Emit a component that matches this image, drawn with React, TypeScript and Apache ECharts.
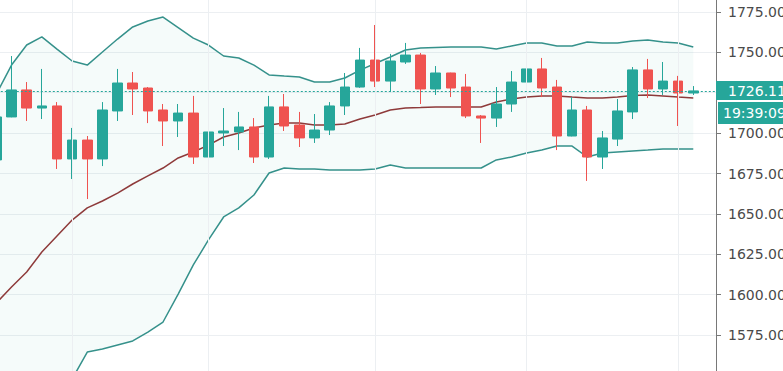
import React, { useEffect, useRef } from "react";
import * as echarts from "echarts";

const categories = [
  "01", "02", "03", "04", "05", "06", "07", "08", "09", "10", "11", "12",
  "13", "14", "15", "16", "17", "18", "19", "20", "21", "22", "23", "24",
  "25", "26", "27", "28", "29", "30", "31", "32", "33", "34", "35", "36",
  "37", "38", "39", "40", "41", "42", "43", "44", "45", "46", "47", "48",
];

const opens = [
  1683.4, 1710.0, 1726.7, 1715.5, 1716.8, 1684.0, 1695.7, 1684.0, 1713.7, 1731.0,
  1727.9, 1714.3, 1707.5, 1712.4, 1685.2, 1700.1, 1700.7, 1703.8, 1685.2, 1716.2,
  1705.0, 1697.0, 1701.9, 1716.8, 1728.5, 1745.2, 1732.2, 1744.0, 1748.3, 1727.3,
  1737.2, 1728.5, 1710.6, 1709.3, 1718.0, 1731.6, 1739.7, 1728.5, 1698.2, 1714.3,
  1685.2, 1696.3, 1713.1, 1739.1, 1727.3, 1732.2, 1724.8,
];
const closes = [
  1710.0, 1726.7, 1715.5, 1716.8, 1684.0, 1695.7, 1684.0, 1714.3, 1731.0, 1727.3,
  1713.7, 1707.5, 1712.4, 1685.2, 1700.7, 1701.3, 1703.8, 1685.2, 1716.2, 1704.4,
  1697.0, 1701.9, 1716.8, 1728.5, 1745.2, 1732.2, 1744.6, 1748.3, 1727.3, 1737.2,
  1727.9, 1710.6, 1709.3, 1718.0, 1731.6, 1739.7, 1727.9, 1698.2, 1714.3, 1685.2,
  1697.0, 1713.7, 1739.1, 1727.3, 1732.2, 1724.8, 1726.11,
];
const lows = [
  1681.0, 1709.8, 1707.5, 1708.7, 1677.8, 1671.6, 1659.2, 1679.6, 1707.5, 1711.2,
  1706.2, 1692.0, 1697.6, 1680.9, 1669.7, 1692.0, 1689.5, 1681.5, 1684.0, 1701.3,
  1691.4, 1693.9, 1698.8, 1711.2, 1728.0, 1728.5, 1725.4, 1742.8, 1718.0, 1723.6,
  1722.3, 1709.3, 1693.9, 1703.8, 1713.1, 1727.9, 1722.3, 1689.5, 1698.0, 1670.4,
  1677.8, 1692.0, 1708.7, 1721.7, 1723.6, 1704.4, 1723.6,
];
const highs = [
  1712.0, 1747.7, 1731.6, 1739.7, 1719.2, 1703.2, 1698.2, 1719.2, 1739.7, 1737.8,
  1728.5, 1718.0, 1718.0, 1723.0, 1706.9, 1715.5, 1713.1, 1709.3, 1723.0, 1724.2,
  1713.1, 1711.8, 1719.2, 1737.2, 1752.7, 1766.9, 1749.0, 1755.8, 1749.6, 1741.5,
  1737.4, 1736.6, 1711.2, 1728.5, 1738.4, 1745.9, 1746.5, 1732.9, 1722.3, 1716.8,
  1701.3, 1721.1, 1740.9, 1745.9, 1744.0, 1735.4, 1729.1,
];

const bbUpper = [
  1724.2, 1742.1, 1754.5, 1759.5, 1752.0, 1744.6, 1742.1, 1750.2, 1758.2, 1765.7,
  1769.4, 1771.8, 1765.3, 1758.8, 1754.5, 1747.7, 1746.5, 1742.1, 1736.0, 1735.3,
  1734.7, 1731.6, 1731.6, 1734.1, 1739.0, 1743.1, 1747.1, 1751.4, 1752.7, 1753.0,
  1753.3, 1753.3, 1753.3, 1752.0, 1753.9, 1755.8, 1755.8, 1753.9, 1753.9, 1756.4,
  1755.8, 1755.8, 1757.0, 1757.6, 1756.4, 1755.8, 1753.3,
];
const bbMiddle = [
  1594.9, 1604.8, 1614.0, 1626.4, 1636.3, 1646.2, 1653.7, 1658.0, 1662.9, 1668.5,
  1673.5, 1678.4, 1684.6, 1688.3, 1692.6, 1697.6, 1700.1, 1703.2, 1705.0, 1706.2,
  1706.2, 1705.0, 1705.0, 1705.6, 1708.7, 1711.2, 1714.3, 1715.5, 1715.8, 1716.2,
  1716.2, 1716.2, 1716.2, 1719.2, 1721.1, 1722.3, 1723.0, 1723.0, 1722.3, 1721.7,
  1721.7, 1722.3, 1723.3, 1723.6, 1723.0, 1722.3, 1721.7,
];
const bbLower = [
  1465.5, 1467.4, 1473.6, 1493.4, 1520.6, 1547.8, 1564.5, 1566.4, 1568.9, 1571.4,
  1576.9, 1583.1, 1600.4, 1618.4, 1633.9, 1648.1, 1653.7, 1661.7, 1675.3, 1678.4,
  1677.8, 1677.8, 1677.2, 1677.2, 1677.2, 1677.8, 1680.3, 1678.4, 1678.4, 1678.4,
  1678.4, 1678.4, 1678.4, 1683.4, 1685.2, 1687.7, 1689.5, 1692.0, 1692.0, 1685.2,
  1687.7, 1688.3, 1688.9, 1689.5, 1690.2, 1690.2, 1690.2,
];

const sessionBreaks = ["06", "15", "26", "36", "46"];
const hiddenTickLabels = [1725];
const lastPrice = 1726.11;
const lastPriceText = "1726.11";
const countdownText = "19:39:09";

const UP = "#26a69a";
const DOWN = "#ef5350";
const BAND = "#35918b";
const BASIS = "#8e3a3a";
const FONT = "DejaVu Sans";

export default function App() {
  const ref = useRef<HTMLDivElement>(null);

  useEffect(() => {
    if (!ref.current) return;
    const chart = echarts.init(ref.current, undefined, { renderer: "svg" });
    const W = 783;
    const gridRight = 67;

    const candles = opens.map((o, i) => [o, closes[i], lows[i], highs[i]]);
    const bandWidth = bbUpper.map((u, i) => +(u - bbLower[i]).toFixed(2));

    chart.setOption({
      animation: false,
      backgroundColor: "#ffffff",
      grid: {
        left: -11.2,
        right: gridRight,
        top: -28.5,
        bottom: -4.5,
        containLabel: false,
        outerBoundsMode: "none",
      },
      xAxis: {
        type: "category",
        data: categories,
        boundaryGap: true,
        axisLine: { show: false },
        axisTick: { show: false },
        axisLabel: { show: false },
        splitLine: { show: false },
      },
      yAxis: {
        type: "value",
        position: "right",
        min: 1550,
        max: 1800,
        interval: 25,
        axisLine: { show: true, lineStyle: { color: "#787878", width: 1 } },
        axisTick: { show: true, length: 5, lineStyle: { color: "#787878" } },
        axisLabel: {
          color: "#4a4a4a",
          fontSize: 14,
          fontFamily: FONT,
          margin: 12,
          formatter: (v: number) =>
            hiddenTickLabels.includes(v) ? "" : v.toFixed(2),
        },
        splitLine: { show: true, lineStyle: { color: "#eceff2", width: 1 } },
      },
      series: [
        {
          name: "lower",
          type: "line",
          data: bbLower,
          stack: "bb",
          symbol: "none",
          z: 1,
          lineStyle: { color: BAND, width: 1.5 },
          markLine: {
            silent: true,
            symbol: ["none", "none"],
            label: { show: false },
            lineStyle: { color: "#eceff2", width: 1, type: "solid" },
            data: sessionBreaks.map((c) => ({ xAxis: c })),
          },
        },
        {
          name: "upper",
          type: "line",
          data: bandWidth,
          stack: "bb",
          symbol: "none",
          z: 1,
          lineStyle: { color: BAND, width: 1.5 },
          areaStyle: { color: "rgba(38,166,154,0.065)" },
        },
        {
          name: "basis",
          type: "line",
          data: bbMiddle,
          symbol: "none",
          z: 2,
          lineStyle: { color: BASIS, width: 1.5 },
        },
        {
          name: "price",
          type: "candlestick",
          data: candles,
          barWidth: 10,
          z: 3,
          itemStyle: {
            color: UP,
            color0: DOWN,
            borderColor: UP,
            borderColor0: DOWN,
            borderWidth: 1,
          },
          markLine: {
            silent: true,
            symbol: ["none", "none"],
            label: { show: false },
            lineStyle: { color: UP, width: 1, type: [2, 2] },
            data: [{ yAxis: lastPrice }],
          },
        },
      ],
    });

    const y = chart.convertToPixel({ yAxisIndex: 0 }, lastPrice) as number;
    const axisX = W - gridRight;
    chart.setOption({
      graphic: [
        {
          type: "rect",
          shape: { x: axisX, y: y - 10, width: W - axisX + 4, height: 19 },
          style: { fill: UP },
          z: 100,
        },
        {
          type: "text",
          x: axisX + 12,
          y: y,
          style: {
            text: lastPriceText,
            fill: "#ffffff",
            font: `14px "${FONT}"`,
            align: "left",
            verticalAlign: "middle",
          },
          z: 101,
        },
        {
          type: "rect",
          shape: { x: axisX + 2, y: y + 11, width: W - axisX, height: 22 },
          style: { fill: UP },
          z: 100,
        },
        {
          type: "text",
          x: axisX + 7,
          y: y + 22,
          style: {
            text: countdownText,
            fill: "#ffffff",
            font: `14px "${FONT}"`,
            align: "left",
            verticalAlign: "middle",
          },
          z: 101,
        },
      ],
    });

    return () => chart.dispose();
  }, []);

  return (
    <div
      ref={ref}
      style={{ position: "absolute", left: 0, top: 0, width: 783, height: 371 }}
    />
  );
}
